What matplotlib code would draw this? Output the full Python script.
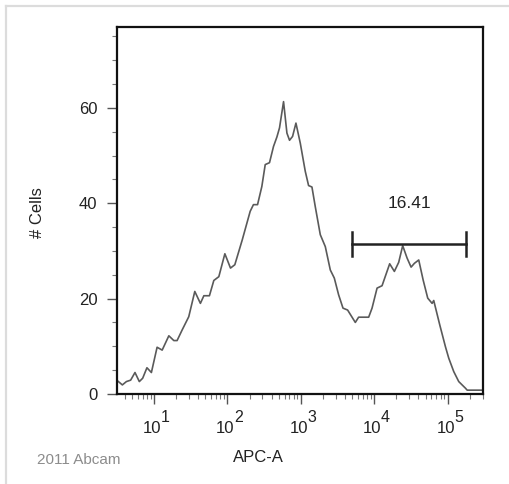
import numpy as np
import matplotlib.pyplot as plt
import matplotlib.transforms as mtransforms
from matplotlib.ticker import LogLocator, MultipleLocator, FixedLocator, NullFormatter
from matplotlib.lines import Line2D

plt.rcParams['font.family'] = ['Liberation Sans', 'DejaVu Sans']

# APC-A intensity and cell counts of the histogram trace
apc = [3.1, 3.7, 4.2, 4.8, 5.5, 6.3, 7.0, 8.0, 9.2, 11, 12.9, 15.9, 18.6, 20.6,
       24.1, 29.7, 35.9, 42.8, 47.7, 56.8, 65.2, 76.3, 92.2, 110, 126, 159,
       204, 226, 257, 294, 327, 374, 424, 472, 512, 581, 646, 701, 771, 857,
       982, 1148, 1274, 1416, 1571, 1840, 2153, 2519, 2856, 3268, 3750, 4335,
       5520, 6120, 8390, 9330, 10920, 12770, 16220, 18790, 21520, 24400,
       28000, 31750, 35240, 40360, 46340, 53500, 61400, 64600, 78000, 93300,
       103500, 121000, 141600, 175000, 184500, 300000]
cells = [2.9, 1.9, 2.6, 2.9, 4.5, 2.6, 3.3, 5.5, 4.5, 9.8, 9.2, 12.2, 11.2, 11.2,
         13.4, 16.2, 21.5, 19.0, 20.6, 20.6, 23.8, 24.6, 29.4, 26.4, 27.1, 32.3,
         38.3, 39.7, 39.7, 43.5, 48.1, 48.5, 51.9, 53.9, 55.8, 61.3, 54.7, 53.2,
         54.0, 56.8, 52.6, 46.7, 43.7, 43.4, 39.3, 33.4, 30.9, 26.0, 24.3, 20.8,
         18.0, 17.6, 15.0, 16.1, 16.1, 18.0, 22.2, 22.7, 27.3, 25.7, 27.6, 31.1,
         28.5, 26.6, 27.4, 28.1, 23.9, 20.1, 19.0, 19.6, 14.5, 9.9, 7.5, 4.7,
         2.6, 1.2, 0.8, 0.8]

# gate
gate_lo, gate_hi, gate_y = 4980, 179000, 31.5
gate_label = '16.41'
y_ticks = [0, 20, 40, 60]
x_decades = [1, 2, 3, 4, 5]

fig = plt.figure(figsize=(5.09, 4.84), dpi=100)
ax = fig.add_axes([0.2293, 0.186, 0.719, 0.7587])

ax.plot(apc, cells, color='#5a5a5a', lw=1.2)

# gate bar with end caps
ax.plot([gate_lo, gate_hi], [gate_y, gate_y], color='#222222', lw=1.8)
for gx in (gate_lo, gate_hi):
    ax.plot([gx, gx], [gate_y - 2.5, gate_y + 2.5], color='#222222', lw=1.8)
gmid = np.sqrt(gate_lo * gate_hi)
ax.text(gmid, 40, gate_label, ha='center', va='center', fontsize=12.5, color='#222222')

ax.set_xscale('log')
ax.set_xlim(3.1, 3.0e5)
ax.set_ylim(0, 77)

ax.set_yticks(y_ticks)
ax.yaxis.set_minor_locator(MultipleLocator(5))
ax.xaxis.set_major_locator(FixedLocator([10.0 ** d for d in x_decades]))
ax.xaxis.set_major_formatter(NullFormatter())
ax.xaxis.set_minor_locator(LogLocator(base=10, subs=np.arange(2, 10)))
ax.xaxis.set_minor_formatter(NullFormatter())

ax.tick_params(axis='both', which='major', direction='out', length=7, width=1,
               color='#555555', labelsize=12, labelcolor='#222222')
ax.tick_params(axis='y', which='major', pad=7)
ax.tick_params(axis='both', which='minor', direction='out', length=3.5,
               width=0.8, color='#777777')

# decade labels: "10" with a full-size raised exponent, as FACS software draws them
xtrans = ax.get_xaxis_transform()
for d in x_decades:
    base_t = mtransforms.offset_copy(xtrans, fig=fig, x=-2 * 0.72, y=-35 * 0.72, units='points')
    exp_t = mtransforms.offset_copy(xtrans, fig=fig, x=6.5 * 0.72, y=-24 * 0.72, units='points')
    ax.text(10.0 ** d, 0, '10', transform=base_t, ha='center', va='center',
            fontsize=12, color='#222222', clip_on=False)
    ax.text(10.0 ** d, 0, str(d), transform=exp_t, ha='left', va='center',
            fontsize=11.5, color='#222222', clip_on=False)

for s in ax.spines.values():
    s.set_linewidth(1.6)
    s.set_color('#111111')

fig.text(37 / 509, 1 - 213 / 484, '# Cells', rotation=90, ha='center', va='center',
         fontsize=12, color='#222222')
fig.text(258 / 509, 1 - 458 / 484, 'APC-A', ha='center', va='center',
         fontsize=12, color='#222222')
fig.text(79 / 509, 1 - 460 / 484, '2011 Abcam', ha='center', va='center',
         fontsize=11, color='#8c8c8c')

# light grey frame, only top and left visible in the crop
fig.add_artist(Line2D([6 / 509, 1], [1 - 6 / 484, 1 - 6 / 484], transform=fig.transFigure,
                      color='#dcdcdc', lw=1.6))
fig.add_artist(Line2D([6 / 509, 6 / 509], [0, 1 - 6 / 484], transform=fig.transFigure,
                      color='#dcdcdc', lw=1.6))

fig.savefig('out.png', dpi=100)
